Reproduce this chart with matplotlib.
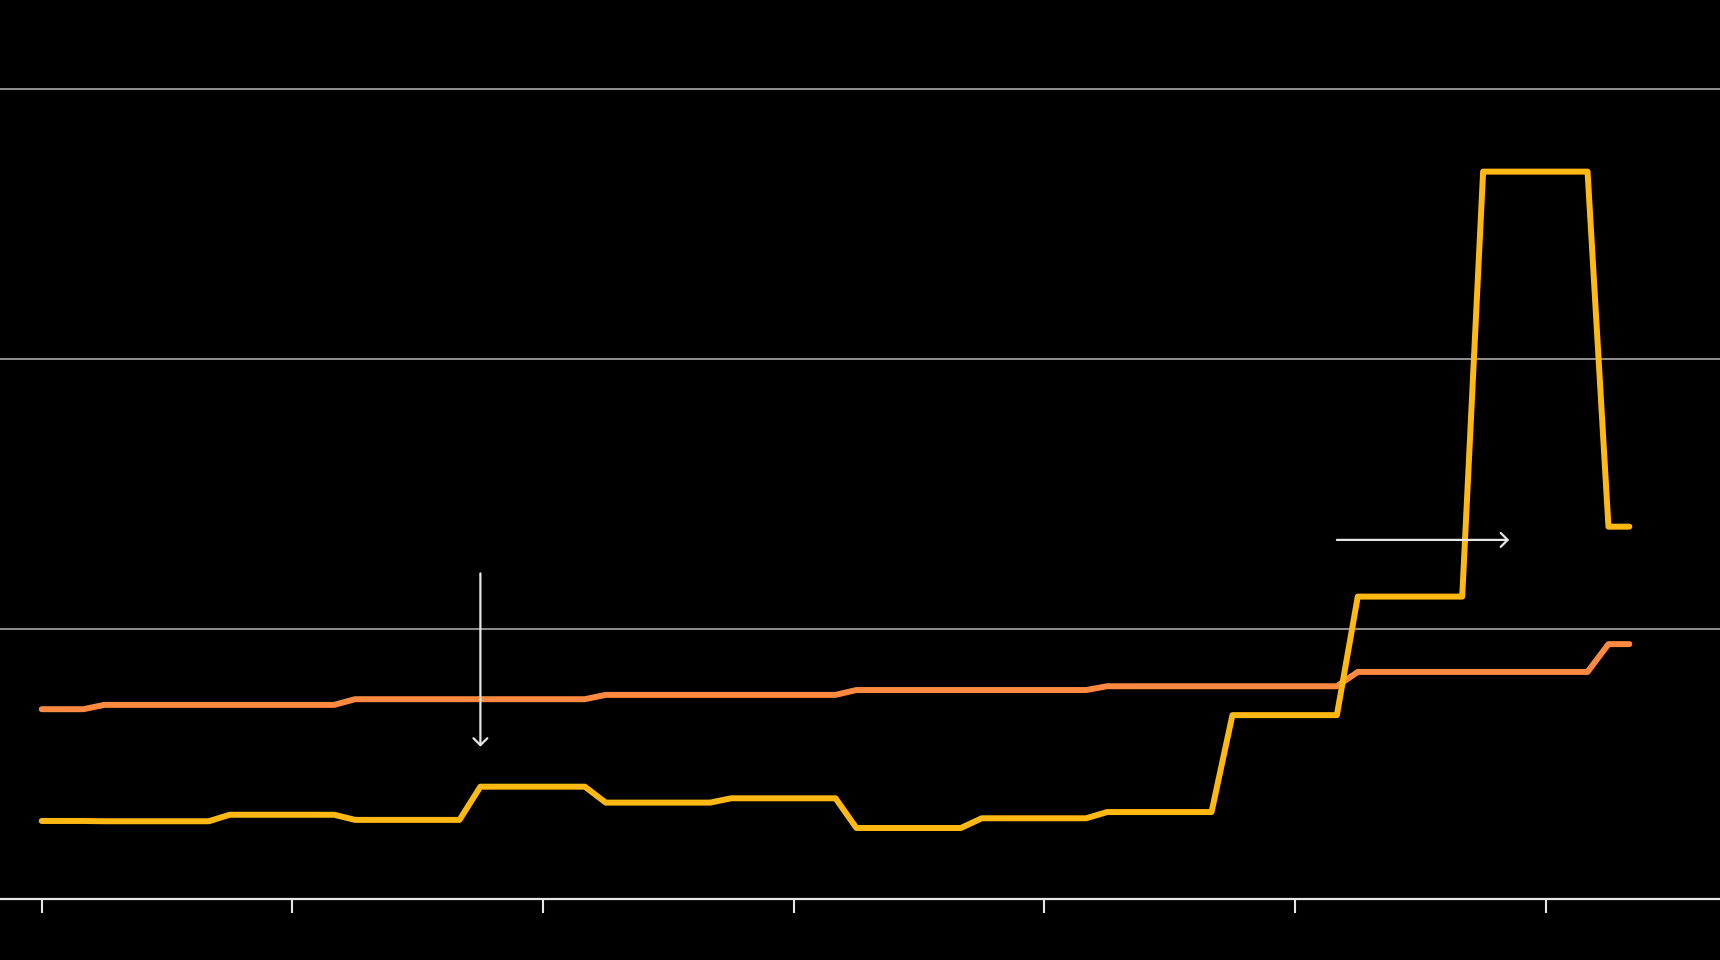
import matplotlib
matplotlib.use('Agg')
import matplotlib.pyplot as plt


# monthly values, ticks every 12 months
months = list(range(77))

orange_steps = [(3, 7.03), (12, 7.19), (12, 7.40), (12, 7.56), (12, 7.74),
                (12, 7.88), (12, 8.41), (2, 9.44)]
yellow_steps = [(3, 2.89), (6, 2.88), (6, 3.12), (6, 2.93), (6, 4.16),
                (6, 3.57), (6, 3.73), (6, 2.63), (6, 2.99), (6, 3.22),
                (6, 6.81), (6, 11.20), (6, 26.94), (2, 13.79)]

tick_positions = [0, 12, 24, 36, 48, 60, 72]
grid_levels = [10, 20, 30]

# annotation arrows: (x_start, y_start, x_end, y_end)
down_arrow = (21, 12.06, 21, 5.64)
right_arrow = (62, 13.3, 70.25, 13.3)


def expand(steps):
    values = []
    for count, value in steps:
        values.extend([value] * count)
    return values


def main():
    orange = expand(orange_steps)
    yellow = expand(yellow_steps)

    fig = plt.figure(figsize=(17.2, 9.6), dpi=100, facecolor='black')
    ax = fig.add_axes([0, 61 / 960, 1, 899 / 960])
    ax.set_facecolor('black')

    for level in grid_levels:
        ax.axhline(level, color='#8f8f8f', lw=1.4, zorder=1)

    ax.plot(months, orange, color='#fd8a40', lw=4.3,
            solid_capstyle='round', solid_joinstyle='round', zorder=3)
    ax.plot(months, yellow, color='#ffb912', lw=4.3,
            solid_capstyle='round', solid_joinstyle='round', zorder=4)

    for x0, y0, x1, y1 in (down_arrow, right_arrow):
        ax.annotate('', xy=(x1, y1), xytext=(x0, y0),
                    arrowprops=dict(arrowstyle='->,head_length=0.5,head_width=0.5',
                                    color='#e6e6e6', lw=1.6,
                                    shrinkA=0, shrinkB=0),
                    zorder=5)

    ax.set_xlim(-1.996, 80.34)
    ax.set_ylim(0, 899 / 27)

    for side in ('top', 'left', 'right'):
        ax.spines[side].set_visible(False)
    ax.spines['bottom'].set_color('#e6e6e6')
    ax.spines['bottom'].set_linewidth(1.6)

    ax.set_xticks(tick_positions)
    ax.set_xticklabels([])
    ax.tick_params(axis='x', direction='out', length=10, width=1.5,
                   color='#e6e6e6')
    ax.set_yticks([])

    fig.savefig('out.png', dpi=100, facecolor='black')


if __name__ == '__main__':
    main()
